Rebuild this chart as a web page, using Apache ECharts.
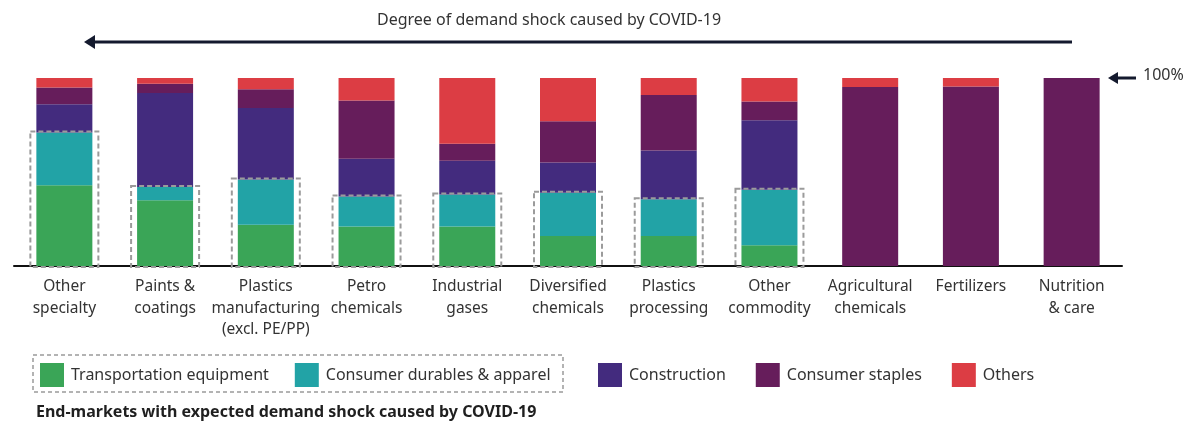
<!DOCTYPE html>
<html><head><meta charset="utf-8">
<script src="https://cdn.jsdelivr.net/npm/echarts@6/dist/echarts.min.js"></script>
<style>html,body{margin:0;padding:0;background:#fff}#c{width:1200px;height:448px}</style>
</head><body><div id="c"></div>
<script>
var categories = ["Other\nspecialty","Paints &\ncoatings","Plastics\nmanufacturing\n(excl. PE/PP)","Petro\nchemicals","Industrial\ngases","Diversified\nchemicals","Plastics\nprocessing","Other\ncommodity","Agricultural\nchemicals","Fertilizers","Nutrition\n& care"];
var transportation = [43, 35, 22, 21, 21, 16, 16, 11, 0, 0, 0];
var consumerDurables = [28, 7, 24, 16, 17, 23, 19.5, 29.5, 0, 0, 0];
var construction = [15, 50, 38, 20, 18, 16, 26, 37, 0, 0, 0];
var consumerStaples = [9, 5, 10, 31, 9, 22, 29.5, 10, 95.2, 95.5, 100];
var others = [5, 3, 6, 12, 35, 23, 9, 12.5, 4.8, 4.5, 0];
var seriesNames = ["Transportation equipment","Consumer durables & apparel","Construction","Consumer staples","Others"];
var colors = ["#3aa557","#22a3a6","#432b7e","#661d5b","#dc3d44"];

var FONT = "Noto Sans";
var chart = echarts.init(document.getElementById('c'));
var vals = [transportation, consumerDurables, construction, consumerStaples, others];
var series = seriesNames.map(function(n, i){
  return {name:n, type:'bar', stack:'t', barWidth:56, data:vals[i], itemStyle:{color:colors[i]}, silent:true};
});
var boxData = [];
categories.forEach(function(c, i){ if (consumerDurables[i] > 0) boxData.push([i, transportation[i] + consumerDurables[i]]); });
series.push({
  type:'custom', name:'box', z:10, silent:true, data:boxData,
  renderItem:function(params, api){
    var p0 = api.coord([api.value(0), 0]);
    var p1 = api.coord([api.value(0), api.value(1)]);
    return {type:'rect', shape:{x:p0[0]-34, y:p1[1]-1, width:68, height:p0[1]-p1[1]+2},
      style:{fill:'none', stroke:'#9b9b9b', lineWidth:2, lineDash:[5,3]}};
  }
});

chart.setOption({
  animation:false,
  textStyle:{fontFamily:FONT},
  grid:{left:14, right:78, top:78, height:188},
  xAxis:{type:'category', data:categories,
    axisLine:{lineStyle:{color:'#111', width:2}}, axisTick:{show:false},
    axisLabel:{color:'#333', fontSize:15.5, lineHeight:21.5, margin:10, interval:0, fontFamily:FONT}},
  yAxis:{type:'value', min:0, max:100, show:false},
  legend:[
    {left:35, top:358, itemWidth:24, itemHeight:24, itemGap:26, icon:'rect', data:seriesNames.slice(0,2),
     textStyle:{fontSize:16, color:'#333', fontFamily:FONT, padding:[0,0,0,2]}, selectedMode:false},
    {left:593, top:358, itemWidth:24, itemHeight:24, itemGap:30, icon:'rect', data:seriesNames.slice(2),
     textStyle:{fontSize:16, color:'#333', fontFamily:FONT, padding:[0,0,0,2]}, selectedMode:false}
  ],
  graphic:[
    {type:'text', left:377, top:12, style:{text:'Degree of demand shock caused by COVID-19', fontSize:16, fill:'#333', fontFamily:FONT}, z:20},
    {type:'line', shape:{x1:92, y1:42, x2:1072, y2:42}, style:{stroke:'#141a2e', lineWidth:3}},
    {type:'polygon', shape:{points:[[84,42],[95,35],[95,49]]}, style:{fill:'#141a2e'}},
    {type:'line', shape:{x1:1117, y1:78, x2:1136, y2:78}, style:{stroke:'#141a2e', lineWidth:3}},
    {type:'polygon', shape:{points:[[1108,78],[1118,72],[1118,84]]}, style:{fill:'#141a2e'}},
    {type:'text', left:1143, top:67, style:{text:'100%', fontSize:16, fill:'#333', fontFamily:FONT}},
    {type:'rect', shape:{x:33, y:355, width:530, height:37}, style:{fill:'none', stroke:'#9b9b9b', lineWidth:1.5, lineDash:[4,3]}},
    {type:'text', left:36, top:404, style:{text:'End-markets with expected demand shock caused by COVID-19', fontSize:16, fontWeight:'bold', fill:'#1f1f1f', fontFamily:FONT}}
  ],
  series:series
});
</script></body></html>
